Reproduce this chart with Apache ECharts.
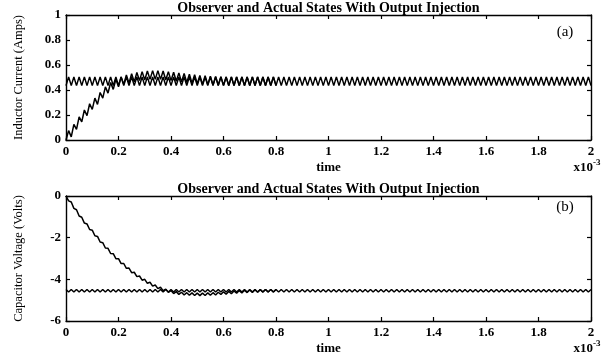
<!DOCTYPE html>
<html>
<head>
<meta charset="utf-8">
<script src="https://cdn.jsdelivr.net/npm/echarts@6/dist/echarts.min.js"></script>
<style>
  html, body { margin: 0; padding: 0; background: #fff; }
  #main { width: 604px; height: 356px; }
</style>
</head>
<body>
<div id="main"></div>
<script>
// time axis is in units of 1e-3 s, one sample every 0.01
var timeStep = 0.01;
var panelTitle = 'Observer and Actual States With Output Injection';

// (a) inductor current, actual state
var actualCurrent = [
  0.435, 0.505, 0.435, 0.505, 0.435, 0.505, 0.435, 0.505, 0.435, 0.505, 0.435, 0.505, 0.435, 0.505, 0.435, 0.505, 0.435, 0.505, 0.435, 0.505,
  0.435, 0.505, 0.435, 0.505, 0.435, 0.505, 0.435, 0.505, 0.435, 0.505, 0.435, 0.505, 0.435, 0.505, 0.435, 0.505, 0.435, 0.505, 0.435, 0.505,
  0.435, 0.505, 0.435, 0.505, 0.435, 0.505, 0.435, 0.505, 0.435, 0.505, 0.435, 0.505, 0.435, 0.505, 0.435, 0.505, 0.435, 0.505, 0.435, 0.505,
  0.435, 0.505, 0.435, 0.505, 0.435, 0.505, 0.435, 0.505, 0.435, 0.505, 0.435, 0.505, 0.435, 0.505, 0.435, 0.505, 0.435, 0.505, 0.435, 0.505,
  0.435, 0.505, 0.435, 0.505, 0.435, 0.505, 0.435, 0.505, 0.435, 0.505, 0.435, 0.505, 0.435, 0.505, 0.435, 0.505, 0.435, 0.505, 0.435, 0.505,
  0.435, 0.505, 0.435, 0.505, 0.435, 0.505, 0.435, 0.505, 0.435, 0.505, 0.435, 0.505, 0.435, 0.505, 0.435, 0.505, 0.435, 0.505, 0.435, 0.505,
  0.435, 0.505, 0.435, 0.505, 0.435, 0.505, 0.435, 0.505, 0.435, 0.505, 0.435, 0.505, 0.435, 0.505, 0.435, 0.505, 0.435, 0.505, 0.435, 0.505,
  0.435, 0.505, 0.435, 0.505, 0.435, 0.505, 0.435, 0.505, 0.435, 0.505, 0.435, 0.505, 0.435, 0.505, 0.435, 0.505, 0.435, 0.505, 0.435, 0.505,
  0.435, 0.505, 0.435, 0.505, 0.435, 0.505, 0.435, 0.505, 0.435, 0.505, 0.435, 0.505, 0.435, 0.505, 0.435, 0.505, 0.435, 0.505, 0.435, 0.505,
  0.435, 0.505, 0.435, 0.505, 0.435, 0.505, 0.435, 0.505, 0.435, 0.505, 0.435, 0.505, 0.435, 0.505, 0.435, 0.505, 0.435, 0.505, 0.435, 0.505,
  0.435
];

// (a) inductor current, observer state (merges with the actual one after ~0.6)
var observerCurrent = [
  0.00, 0.075, 0.025, 0.125, 0.085, 0.185, 0.145, 0.24, 0.195, 0.29,
  0.245, 0.335, 0.285, 0.38, 0.335, 0.425, 0.375, 0.46, 0.405, 0.485,
  0.425, 0.505, 0.445, 0.52, 0.455, 0.53, 0.465, 0.54, 0.475, 0.547,
  0.48, 0.552, 0.485, 0.555, 0.485, 0.555, 0.485, 0.552, 0.48, 0.547,
  0.475, 0.542, 0.47, 0.537, 0.465, 0.532, 0.46, 0.527, 0.455, 0.522,
  0.45, 0.517, 0.445, 0.514, 0.443, 0.511, 0.44, 0.509, 0.438, 0.507,
  0.437, 0.505, 0.435, 0.505, 0.435, 0.505, 0.435, 0.505, 0.435, 0.505,
  0.435, 0.505, 0.435, 0.505, 0.435, 0.505, 0.435, 0.505, 0.435, 0.505, 0.435
];

// (b) capacitor voltage, actual state
var actualVoltage = [
  -4.49, -4.61, -4.49, -4.61, -4.49, -4.61, -4.49, -4.61, -4.49, -4.61, -4.49, -4.61, -4.49, -4.61, -4.49, -4.61, -4.49, -4.61, -4.49, -4.61,
  -4.49, -4.61, -4.49, -4.61, -4.49, -4.61, -4.49, -4.61, -4.49, -4.61, -4.49, -4.61, -4.49, -4.61, -4.49, -4.61, -4.49, -4.61, -4.49, -4.61,
  -4.49, -4.61, -4.49, -4.61, -4.49, -4.61, -4.49, -4.61, -4.49, -4.61, -4.49, -4.61, -4.49, -4.61, -4.49, -4.61, -4.49, -4.61, -4.49, -4.61,
  -4.49, -4.61, -4.49, -4.61, -4.49, -4.61, -4.49, -4.61, -4.49, -4.61, -4.49, -4.61, -4.49, -4.61, -4.49, -4.61, -4.49, -4.61, -4.49, -4.61,
  -4.49, -4.61, -4.49, -4.61, -4.49, -4.61, -4.49, -4.61, -4.49, -4.61, -4.49, -4.61, -4.49, -4.61, -4.49, -4.61, -4.49, -4.61, -4.49, -4.61,
  -4.49, -4.61, -4.49, -4.61, -4.49, -4.61, -4.49, -4.61, -4.49, -4.61, -4.49, -4.61, -4.49, -4.61, -4.49, -4.61, -4.49, -4.61, -4.49, -4.61,
  -4.49, -4.61, -4.49, -4.61, -4.49, -4.61, -4.49, -4.61, -4.49, -4.61, -4.49, -4.61, -4.49, -4.61, -4.49, -4.61, -4.49, -4.61, -4.49, -4.61,
  -4.49, -4.61, -4.49, -4.61, -4.49, -4.61, -4.49, -4.61, -4.49, -4.61, -4.49, -4.61, -4.49, -4.61, -4.49, -4.61, -4.49, -4.61, -4.49, -4.61,
  -4.49, -4.61, -4.49, -4.61, -4.49, -4.61, -4.49, -4.61, -4.49, -4.61, -4.49, -4.61, -4.49, -4.61, -4.49, -4.61, -4.49, -4.61, -4.49, -4.61,
  -4.49, -4.61, -4.49, -4.61, -4.49, -4.61, -4.49, -4.61, -4.49, -4.61, -4.49, -4.61, -4.49, -4.61, -4.49, -4.61, -4.49, -4.61, -4.49, -4.61,
  -4.49
];

// (b) capacitor voltage, observer state
var observerVoltage = [
  0.00, -0.235, -0.29, -0.595, -0.66, -0.96, -1.02, -1.30, -1.34, -1.61,
  -1.64, -1.91, -1.94, -2.21, -2.24, -2.495, -2.51, -2.76, -2.77, -3.01,
  -3.01, -3.245, -3.24, -3.47, -3.46, -3.68, -3.66, -3.87, -3.84, -4.04,
  -4.00, -4.19, -4.14, -4.325, -4.27, -4.445, -4.38, -4.545, -4.47, -4.625,
  -4.54, -4.685, -4.59, -4.725, -4.62, -4.75, -4.64, -4.765, -4.65, -4.775,
  -4.66, -4.78, -4.66, -4.775, -4.65, -4.765, -4.64, -4.75, -4.62, -4.73,
  -4.60, -4.71, -4.58, -4.69, -4.56, -4.67, -4.54, -4.65, -4.525, -4.635,
  -4.51, -4.625, -4.50, -4.617, -4.495, -4.612, -4.49, -4.61, -4.49, -4.61, -4.49
];

var serif = '"Liberation Serif", "DejaVu Serif", serif';

function toPairs(values) {
  return values.map(function (v, i) { return [+(i * timeStep).toFixed(2), v]; });
}

function xAxes(g) {
  var base = {
    type: 'value', gridIndex: g, min: 0, max: 2, interval: 0.2,
    axisLine: { onZero: false, lineStyle: { color: '#000', width: 1.4 } },
    axisTick: { inside: true, length: 4, lineStyle: { color: '#000', width: 1.2 } },
    splitLine: { show: false }
  };
  return [
    Object.assign({}, base, {
      position: 'bottom',
      axisLabel: { color: '#000', fontFamily: serif, fontWeight: 'bold', fontSize: 13, margin: 5 },
      name: 'time', nameLocation: 'middle', nameGap: 21,
      nameTextStyle: { color: '#000', fontFamily: serif, fontWeight: 'bold', fontSize: 13 }
    }),
    Object.assign({}, base, { position: 'top', axisLabel: { show: false } })
  ];
}

function yAxes(g, min, max, interval, label) {
  var base = {
    type: 'value', gridIndex: g, min: min, max: max, interval: interval,
    axisLine: { show: true, onZero: false, lineStyle: { color: '#000', width: 1.4 } },
    axisTick: { show: true, inside: true, length: 4, lineStyle: { color: '#000', width: 1.2 } },
    splitLine: { show: false }
  };
  return [
    Object.assign({}, base, {
      position: 'left',
      axisLabel: { color: '#000', fontFamily: serif, fontWeight: 'bold', fontSize: 13, margin: 5 },
      name: label, nameLocation: 'middle', nameGap: 41,
      nameTextStyle: { color: '#000', fontFamily: serif, fontSize: 12.5 }
    }),
    Object.assign({}, base, { position: 'right', axisLabel: { show: false } })
  ];
}

function line(values, xi, yi) {
  return {
    type: 'line', xAxisIndex: xi, yAxisIndex: yi, data: toPairs(values),
    showSymbol: false, animation: false,
    lineStyle: { color: '#000', width: 1.5 }
  };
}

function label(text, x, y, font, align) {
  return {
    type: 'text', x: x, y: y,
    style: { text: text, font: font, fill: '#000', align: align || 'center', verticalAlign: 'middle' }
  };
}

var myChart = echarts.init(document.getElementById('main'));

var option = {
  backgroundColor: '#fff',
  animation: false,
  grid: [
    { left: 66, right: 13, top: 15, height: 125 },
    { left: 66, right: 13, top: 196, height: 125 }
  ],
  xAxis: xAxes(0).concat(xAxes(1)),
  yAxis: yAxes(0, 0, 1, 0.2, 'Inductor Current (Amps)')
    .concat(yAxes(1, -6, 0, 2, 'Capacitor Voltage (Volts)')),
  series: [
    line(actualCurrent, 0, 0),
    line(observerCurrent, 0, 0),
    line(actualVoltage, 2, 2),
    line(observerVoltage, 2, 2)
  ],
  graphic: [
    label(panelTitle, 328.5, 8, 'bold 14px ' + serif),
    label(panelTitle, 328.5, 189, 'bold 14px ' + serif),
    label('(a)', 565, 32, '15px ' + serif),
    label('(b)', 565, 207, '15px ' + serif),
    label('x10', 593, 168, 'bold 13px ' + serif, 'right'),
    label('-3', 593, 163, 'bold 9px ' + serif, 'left'),
    label('x10', 593, 349, 'bold 13px ' + serif, 'right'),
    label('-3', 593, 344, 'bold 9px ' + serif, 'left')
  ]
};

myChart.setOption(option);
</script>
</body>
</html>
